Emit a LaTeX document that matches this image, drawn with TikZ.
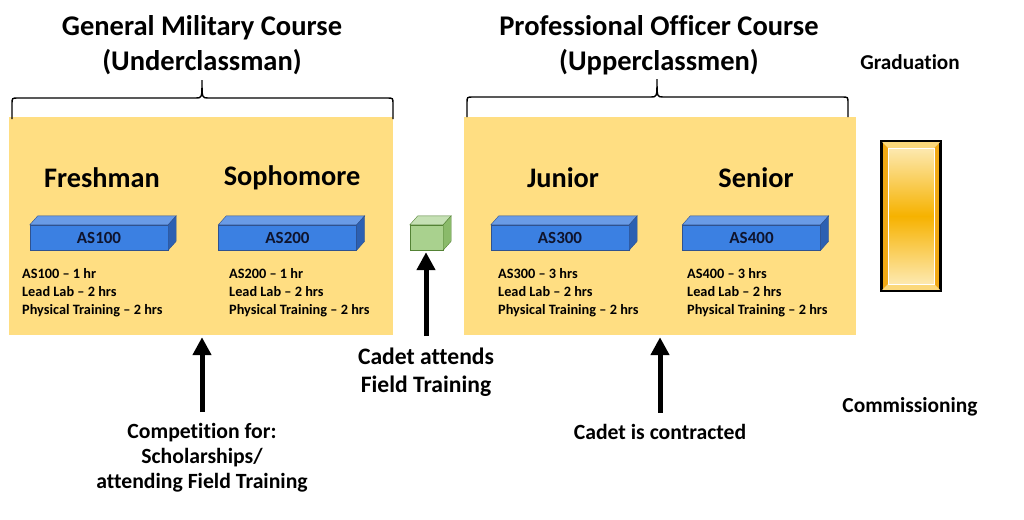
\documentclass[tikz,border=0pt]{standalone}
\usepackage{fontspec}
\setmainfont{Carlito}[Ligatures={TeX,NoCommon}]
\usetikzlibrary{arrows.meta}
\definecolor{panelyellow}{RGB}{255,222,130}
\definecolor{barblue}{RGB}{59,128,226}
\definecolor{baredge}{RGB}{47,82,143}
\definecolor{bartop}{RGB}{105,155,230}
\definecolor{barside}{RGB}{44,96,178}
\definecolor{bartext}{RGB}{15,20,45}
\definecolor{cubegreen}{RGB}{169,209,142}
\definecolor{cubetop}{RGB}{197,224,180}
\definecolor{cubeside}{RGB}{138,186,106}
\definecolor{cubeedge}{RGB}{84,130,53}
\definecolor{goldpale}{RGB}{253,233,176}
\definecolor{golddeep}{RGB}{246,178,0}
\definecolor{goldframe}{RGB}{240,168,20}

\begin{document}
\begin{tikzpicture}[x=1pt,y=-1pt,>={Triangle[width=18pt,length=18pt]},
  panel/.style={fill=panelyellow,minimum width=#1,minimum height=218pt,inner sep=0pt},
  brace/.style={line width=1.4pt},
  heading/.style={align=center,font=\bfseries\fontsize{28.5}{35}\selectfont},
  year/.style={font=\bfseries\fontsize{28.3}{32}\selectfont},
  coursebar/.style={draw=baredge,fill=barblue,minimum width=138pt,minimum height=25pt,inner sep=0pt,
    text=bartext,font=\bfseries\fontsize{17}{18}\selectfont},
  barface/.style={draw=baredge,fill=#1},
  hours/.style={anchor=west,align=left,inner sep=0pt,font=\bfseries\fontsize{14.3}{18}\selectfont},
  note/.style={align=center,font=\bfseries\fontsize{21.7}{#1}\selectfont},
  uparrow/.style={->,line width=5pt}]
\useasboundingbox (0,0) rectangle (1024,519);

\node[panel=384pt] (gmc) at (201,226) {};
\node[panel=392pt] (poc) at (660,226) {};

\node[heading] (gmctitle) at (202,45) {General Military Course\\(Underclassman)};
\node[heading] (poctitle) at (659,45) {Professional Officer Course\\(Upperclassmen)};
\node[note=24,font=\bfseries\fontsize{21.2}{24}\selectfont] (grad) at (910,62) {Graduation};

\draw[brace] (12,119) -- (12,104) .. controls (12,98) .. (18,98) -- (196,98)
  .. controls (202,98) .. (202,80) .. controls (202,98) .. (208,98) -- (387,98)
  .. controls (393,98) .. (393,104) -- (393,119);
\draw[brace] (467,117) -- (467,103) .. controls (467,97) .. (473,97) -- (651,97)
  .. controls (657,97) .. (657,79) .. controls (657,97) .. (663,97) -- (842,97)
  .. controls (848,97) .. (848,103) -- (848,117);

\node[year] (fresh) at (102,178) {Freshman};
\node[year] (soph) at (292,178) {Sophomore};
\node[year] (jun) at (563,178) {Junior};
\node[year] (sen) at (756,178) {Senior};

\node[coursebar] (as100) at (99,237.5) {AS100};
\filldraw[barface=bartop] (as100.north west) -- ++(8,-9) -- ([shift={(8,-9)}]as100.north east) -- (as100.north east) -- cycle;
\filldraw[barface=barside] (as100.north east) -- ++(8,-9) -- ([shift={(8,-9)}]as100.south east) -- (as100.south east) -- cycle;
\node[coursebar] (as200) at (287.5,237.5) {AS200};
\filldraw[barface=bartop] (as200.north west) -- ++(8,-9) -- ([shift={(8,-9)}]as200.north east) -- (as200.north east) -- cycle;
\filldraw[barface=barside] (as200.north east) -- ++(8,-9) -- ([shift={(8,-9)}]as200.south east) -- (as200.south east) -- cycle;
\node[coursebar] (as300) at (560,237.5) {AS300};
\filldraw[barface=bartop] (as300.north west) -- ++(8,-9) -- ([shift={(8,-9)}]as300.north east) -- (as300.north east) -- cycle;
\filldraw[barface=barside] (as300.north east) -- ++(8,-9) -- ([shift={(8,-9)}]as300.south east) -- (as300.south east) -- cycle;
\node[coursebar] (as400) at (751.5,237.5) {AS400};
\filldraw[barface=bartop] (as400.north west) -- ++(8,-9) -- ([shift={(8,-9)}]as400.north east) -- (as400.north east) -- cycle;
\filldraw[barface=barside] (as400.north east) -- ++(8,-9) -- ([shift={(8,-9)}]as400.south east) -- (as400.south east) -- cycle;

\node[draw=cubeedge,fill=cubegreen,minimum width=33pt,minimum height=25pt,inner sep=0pt] (cube) at (426.5,237.5) {};
\filldraw[draw=cubeedge,fill=cubetop] (cube.north west) -- ++(8,-9) -- ([shift={(8,-9)}]cube.north east) -- (cube.north east) -- cycle;
\filldraw[draw=cubeedge,fill=cubeside] (cube.north east) -- ++(8,-9) -- ([shift={(8,-9)}]cube.south east) -- (cube.south east) -- cycle;

\node[hours] (h100) at (22,292.5) {AS100 -- 1 hr\\Lead Lab -- 2 hrs\\Physical Training -- 2 hrs};
\node[hours] (h200) at (229,292.5) {AS200 -- 1 hr\\Lead Lab -- 2 hrs\\Physical Training -- 2 hrs};
\node[hours] (h300) at (498,292.5) {AS300 -- 3 hrs\\Lead Lab -- 2 hrs\\Physical Training -- 2 hrs};
\node[hours] (h400) at (687,292.5) {AS400 -- 3 hrs\\Lead Lab -- 2 hrs\\Physical Training -- 2 hrs};

\node[draw=black,line width=2pt,fill=goldframe,minimum width=58pt,minimum height=148pt,inner sep=0pt] (bar) at (911,216) {};
\fill[goldpale!70!golddeep] (bar.north west) -- ([shift={(7,7)}]bar.north west) -- ([shift={(-7,7)}]bar.north east) -- (bar.north east) -- cycle;
\fill[goldpale!70!golddeep] (bar.south west) -- ([shift={(7,-7)}]bar.south west) -- ([shift={(-7,-7)}]bar.south east) -- (bar.south east) -- cycle;
\shade[top color=goldpale,bottom color=goldpale,middle color=golddeep] ([shift={(7,7)}]bar.north west) rectangle ([shift={(-7,-7)}]bar.south east);
\draw[white,line width=0.8pt] ([shift={(7,7)}]bar.north west) rectangle ([shift={(-7,-7)}]bar.south east);
\draw[black,line width=2pt] (bar.north west) rectangle (bar.south east);

\node[note=25] (comp) at (202,458) {Competition for:\\Scholarships/\\attending Field Training};
\node[note=28,font=\bfseries\fontsize{23.6}{28}\selectfont] (camp) at (426,372) {Cadet attends\\Field Training};
\node[note=24] (contr) at (660,432) {Cadet is contracted};
\node[note=24,font=\bfseries\fontsize{21.4}{24}\selectfont] (comm) at (910,407) {Commissioning};

\draw[uparrow,shorten <=8pt,shorten >=2pt] (comp.north) -- (comp.north |- gmc.south);
\draw[uparrow,shorten <=8pt,shorten >=2pt] (camp.north) -- (camp.north |- cube.south);
\draw[uparrow,shorten <=8pt,shorten >=2pt] (contr.north) -- (contr.north |- poc.south);
\end{tikzpicture}
\end{document}
